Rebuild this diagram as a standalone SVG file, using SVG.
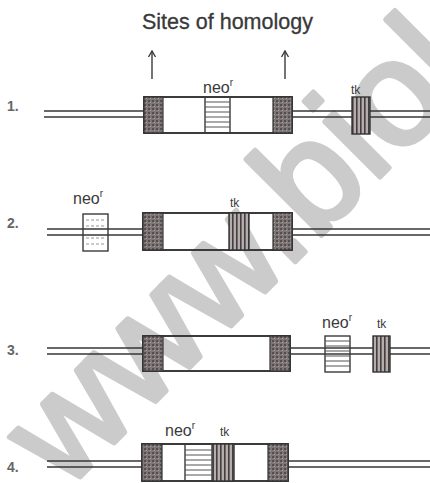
<svg xmlns="http://www.w3.org/2000/svg" width="430" height="483" viewBox="0 0 430 483">
<style>
.wm{font-family:"Liberation Sans",Arial,sans-serif;font-size:148px;fill:#cbcbcb;stroke:#cbcbcb;stroke-width:5;stroke-linejoin:round}
.ln{stroke:#363636;stroke-width:1.7;fill:none}
.box{fill:none;stroke:#333;stroke-width:1.9}
.hatch{fill:url(#speck);stroke:#333;stroke-width:1.2}
.neo{fill:none;stroke:#3a3a3a;stroke-width:1.4}
.stripe{stroke:#555;stroke-width:1}
.tk{fill:url(#vstripe);stroke:#333;stroke-width:1.4}
.lbl{font-family:"Liberation Sans",Arial,sans-serif;fill:#3a3a3a}
.num{font-family:"Liberation Sans",Arial,sans-serif;font-size:14px;font-weight:bold;fill:#666}
.arr{stroke:#3a3a3a;stroke-width:1.4;fill:none}
</style>
<defs>
<pattern id="speck" width="4" height="4" patternUnits="userSpaceOnUse">
<rect width="4" height="4" fill="#7e7676"/>
<rect width="2" height="2" fill="#544e4e"/>
<rect x="2" y="2" width="1" height="1" fill="#a9a1a1"/>
</pattern>
<pattern id="vstripe" width="4" height="4" patternUnits="userSpaceOnUse">
<rect width="4" height="4" fill="#b5adad"/>
<rect width="1.6" height="4" fill="#443e3e"/>
</pattern>
<marker id="ah" markerWidth="10" markerHeight="10" refX="9" refY="5" orient="auto" markerUnits="userSpaceOnUse" viewBox="0 0 10 10">
<path d="M3,1.5 L9,5 L3,8.5" fill="none" stroke="#3a3a3a" stroke-width="1.4"/>
</marker>
</defs>
<rect width="430" height="483" fill="#ffffff"/>
<text class="wm" transform="translate(64.7 492.3) rotate(-45)">www.biol</text>

<text class="lbl" x="142" y="29" font-size="21.5" fill="#333" stroke="#333" stroke-width="0.3">Sites of homology</text>

<g id="connectors">
<line class="arr" x1="152" y1="79" x2="152" y2="51" marker-end="url(#ah)"/>
<line class="arr" x1="285" y1="79" x2="285" y2="51" marker-end="url(#ah)"/>
</g>

<g id="row1">
<text class="num" x="7" y="111">1.</text>
<line class="ln" x1="44" y1="111" x2="144" y2="111"/>
<line class="ln" x1="44" y1="117" x2="144" y2="117"/>
<line class="ln" x1="292" y1="111" x2="430" y2="111"/>
<line class="ln" x1="292" y1="117" x2="430" y2="117"/>
<rect class="box" x="144" y="97" width="148" height="36"/>
<rect class="hatch" x="144" y="97" width="19" height="36"/>
<rect class="hatch" x="273" y="97" width="19" height="36"/>
<rect class="neo" x="205" y="97" width="25" height="36"/>
<path class="stripe" d="M205,102H230M205,107H230M205,112H230M205,117H230M205,122H230M205,127H230"/>
<text class="lbl" x="203" y="93" font-size="16">neo<tspan dy="-7" font-size="10">r</tspan></text>
<rect class="tk" x="352" y="97" width="18" height="37"/>
<text class="lbl" x="351" y="94" font-size="12">tk</text>
</g>

<g id="row2">
<text class="num" x="7" y="228">2.</text>
<line class="ln" x1="47" y1="229" x2="143" y2="229"/>
<line class="ln" x1="47" y1="235" x2="143" y2="235"/>
<line class="ln" x1="292" y1="229" x2="430" y2="229"/>
<line class="ln" x1="292" y1="235" x2="430" y2="235"/>
<rect class="neo" x="83" y="214" width="25" height="37" fill="#fff"/>
<path class="stripe" d="M86,220H105M86,226H105M86,238H105M86,244H105" stroke-dasharray="3 2" opacity="0.6"/>
<text class="lbl" x="73" y="204" font-size="16">neo<tspan dy="-7" font-size="10">r</tspan></text>
<rect class="box" x="143" y="213" width="149" height="37"/>
<rect class="hatch" x="143" y="213" width="20" height="37"/>
<rect class="hatch" x="273" y="213" width="19" height="37"/>
<rect class="tk" x="229" y="213" width="20" height="37"/>
<text class="lbl" x="230" y="207" font-size="12">tk</text>
</g>

<g id="row3">
<text class="num" x="7" y="355">3.</text>
<line class="ln" x1="47" y1="348" x2="143" y2="348"/>
<line class="ln" x1="47" y1="354" x2="143" y2="354"/>
<line class="ln" x1="290" y1="348" x2="430" y2="348"/>
<line class="ln" x1="290" y1="354" x2="430" y2="354"/>
<rect class="box" x="143" y="336" width="147" height="35"/>
<rect class="hatch" x="143" y="336" width="20" height="35"/>
<rect class="hatch" x="270" y="336" width="20" height="35"/>
<rect class="neo" x="325" y="336" width="25" height="36" fill="#fff"/>
<path class="stripe" d="M325,341H350M325,346H350M325,351H350M325,356H350M325,361H350M325,366H350"/>
<text class="lbl" x="322" y="328" font-size="16">neo<tspan dy="-7" font-size="10">r</tspan></text>
<rect class="tk" x="373" y="336" width="17" height="36"/>
<text class="lbl" x="377" y="328" font-size="12">tk</text>
</g>

<g id="row4">
<text class="num" x="7" y="472">4.</text>
<line class="ln" x1="47" y1="461" x2="142" y2="461"/>
<line class="ln" x1="47" y1="467" x2="142" y2="467"/>
<line class="ln" x1="288" y1="461" x2="430" y2="461"/>
<line class="ln" x1="288" y1="467" x2="430" y2="467"/>
<rect class="box" x="142" y="444" width="146" height="37"/>
<rect class="hatch" x="142" y="444" width="20" height="37"/>
<rect class="hatch" x="268" y="444" width="20" height="37"/>
<rect class="neo" x="185" y="444" width="27" height="37"/>
<path class="stripe" d="M185,450H212M185,455H212M185,460H212M185,465H212M185,470H212M185,475H212"/>
<rect class="tk" x="213" y="444" width="21" height="37"/>
<text class="lbl" x="165" y="436" font-size="16">neo<tspan dy="-7" font-size="10">r</tspan></text>
<text class="lbl" x="220" y="436" font-size="12">tk</text>
</g>
</svg>
